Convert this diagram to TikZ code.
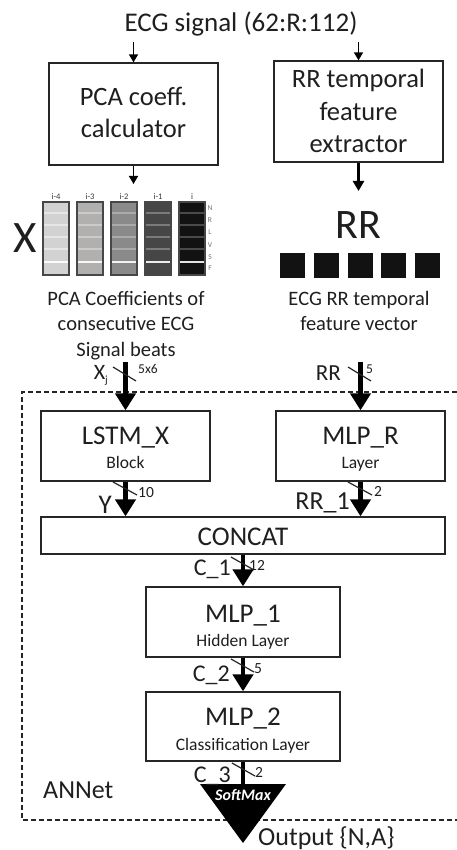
\documentclass[tikz,border=0pt]{standalone}
\usepackage{fontspec}
\setmainfont{Carlito}
\usetikzlibrary{arrows.meta}

\newcommand\fsz[1]{\fontsize{#1}{#1}\selectfont}

\definecolor{cA}{HTML}{D2D2D2}\definecolor{sA}{HTML}{E6E6E6}
\definecolor{cB}{HTML}{B2AFAF}\definecolor{sB}{HTML}{CCCACA}
\definecolor{cC}{HTML}{8A8A8A}\definecolor{sC}{HTML}{AAAAAA}
\definecolor{cD}{HTML}{464646}\definecolor{sD}{HTML}{7A7A7A}
\definecolor{cE}{HTML}{121212}\definecolor{sE}{HTML}{4A4A4A}

\begin{document}
\begin{tikzpicture}[x=1pt,y=-1pt,
  box/.style={draw=black!85,line width=1.3pt,inner sep=0pt,fill=white},
  txt/.style={inner sep=0pt,anchor=base,text=black!88},
  lbl/.style={inner sep=0pt,text=black!88},
  bus/.style={line width=4.5pt,-{Triangle[width=20pt,length=17pt]}},
  feed/.style={line width=1.6pt,-{Triangle[width=9pt,length=8pt]}},
  tick/.style={line width=1.2pt,black!85},
  coltag/.style={inner sep=0pt,anchor=base,font=\fsz{8.5},text=black!80},
  rowtag/.style={inner sep=0pt,font=\fsz{7.5},text=black!55},
  ]
\useasboundingbox (0,0) rectangle (457,850);

% ---- input signal and the two feature extractors
\node[txt,font=\fsz{27}] (ecg) at (241,32) {ECG signal (62:R:112)};
\coordinate (ecgL) at (133.5,42);
\coordinate (ecgR) at (358.5,42);

\node[box,minimum width=169pt,minimum height=102pt] (pca) at (133.5,114) {};
\node[txt,font=\fsz{26.5}] (pcaA) at (133.5,106) {PCA coeff.};
\node[txt,font=\fsz{26.5}] (pcaB) at (133.5,138) {calculator};

\node[box,minimum width=169pt,minimum height=101pt] (rrx) at (358.5,111.5) {};
\node[txt,font=\fsz{26.5}] (rrxA) at (358.5,88) {RR temporal};
\node[txt,font=\fsz{26.5}] (rrxB) at (358.5,121) {feature};
\node[txt,font=\fsz{26.5}] (rrxC) at (358.5,153) {extractor};

\draw[feed] (ecgL) -- (pca.north);
\draw[feed] (ecgR) -- (rrx.north);

\coordinate (pcaOut) at (133.5,184);
\coordinate (rrxOut) at (358.5,191);
\draw[feed] (pca.south) -- (pcaOut);
\draw[line width=2.4pt,-{Triangle[width=11pt,length=10pt]}] (rrx.south) -- (rrxOut);

% ---- PCA coefficient matrix X (five consecutive beats)
\node[txt,font=\fsz{45}] (bigX) at (25,252) {X};
\foreach \k/\fc/\sc/\lab in {0/cA/sA/i-4,1/cB/sB/i-3,2/cC/sC/i-2,3/cD/sD/i-1,4/cE/sE/i}{
  \pgfmathsetmacro\xl{43+34*\k}
  \fill[\fc] (\xl,202) rectangle ++(26,73);
  \foreach \yy in {213,225,237,249}
    \draw[\sc,line width=2pt] (\xl,\yy) -- ++(26,0);
  \draw[white!85!\sc,line width=1.6pt] (\xl,262) -- ++(26,0);
  \draw[black!72,line width=1.5pt] (\xl,202) rectangle ++(26,73);
  \node[coltag] (tag\k) at (\xl+13,200) {\lab};
}
\foreach \r/\yy in {N/208,R/220,L/232,V/245,S/257,F/268}
  \node[rowtag] (row\r) at (210,\yy) {\r};

\node[txt,font=\fsz{20.5}] (capA) at (126,305) {PCA Coefficients of};
\node[txt,font=\fsz{20.5}] (capB) at (126,330) {consecutive ECG};
\node[txt,font=\fsz{20.5}] (capC) at (126,356) {Signal beats};

% ---- RR feature vector
\node[txt,font=\fsz{42}] (bigRR) at (358,238) {RR};
\foreach \k in {0,...,4}
  \fill[black!93] (280+33.75*\k,253) rectangle ++(25,25);
\node[txt,font=\fsz{20.5}] (capD) at (359,305) {ECG RR temporal};
\node[txt,font=\fsz{20.5}] (capE) at (359,330) {feature vector};

% ---- ANNet
\draw[line width=1.6pt,black!85,dash pattern=on 5pt off 3pt]
  (457,392) -- (22,392) -- (22,820) -- (457,820);
\node[lbl,anchor=base west,font=\fsz{26}] (annet) at (43,798) {ANNet};

\node[box,minimum width=169pt,minimum height=70pt] (lstm) at (125.5,446) {};
\node[txt,font=\fsz{27}] (lstmA) at (125.5,444) {LSTM\_X};
\node[txt,font=\fsz{17.5}] (lstmB) at (125.5,468) {Block};

\node[box,minimum width=169pt,minimum height=70pt] (mlpr) at (360.5,446) {};
\node[txt,font=\fsz{27}] (mlprA) at (360.5,444) {MLP\_R};
\node[txt,font=\fsz{17.5}] (mlprB) at (360.5,468) {Layer};

\node[box,minimum width=404pt,minimum height=37pt] (concat) at (243,535.5) {};
\node[txt,font=\fsz{27}] (concatA) at (243,545) {CONCAT};

\node[box,minimum width=194pt,minimum height=70pt] (mlpa) at (243,622) {};
\node[txt,font=\fsz{27}] (mlpaA) at (243,622) {MLP\_1};
\node[txt,font=\fsz{17.5}] (mlpaB) at (243,646) {Hidden Layer};

\node[box,minimum width=194pt,minimum height=69pt] (mlpb) at (243,726.5) {};
\node[txt,font=\fsz{27}] (mlpbA) at (243,725) {MLP\_2};
\node[txt,font=\fsz{17.5}] (mlpbB) at (243,750) {Classification Layer};

% bus inputs
\coordinate (xin) at (125.5,362);
\coordinate (rin) at (360.5,362);
\draw[bus] (xin) -- (lstm.north);
\draw[bus] (rin) -- (mlpr.north);
\draw[tick] (113,367) -- (136,381);
\draw[tick] (348,367) -- (371,381);
\node[lbl,anchor=base east,font=\fsz{22}] (xj) at (108,379) {X\raisebox{-4pt}{\fsz{11}j}};
\node[lbl,anchor=base west,font=\fsz{13.5}] (xw) at (138,373) {5x6};
\node[lbl,anchor=base east,font=\fsz{23}] (rrl) at (341,380) {RR};
\node[lbl,anchor=base west,font=\fsz{13.5}] (rw) at (366,373) {5};

% buses into CONCAT
\draw[bus] (lstm.south) -- (concat.north -| lstm.south);
\draw[bus] (mlpr.south) -- (concat.north -| mlpr.south);
\draw[tick] (113,482) -- (137,495);
\draw[tick] (348,482) -- (372,495);
\node[lbl,anchor=base east,font=\fsz{27}] (yl) at (112,513) {Y};
\node[lbl,anchor=base west,font=\fsz{15.5}] (yw) at (138,497) {10};
\node[lbl,anchor=base east,font=\fsz{26}] (rr1) at (350,509) {RR\_1};
\node[lbl,anchor=base west,font=\fsz{15.5}] (rr1w) at (374,496) {2};

% CONCAT -> MLP_1 -> MLP_2
\draw[bus] (concat.south) -- (mlpa.north);
\draw[tick] (231,557) -- (254,570);
\node[lbl,anchor=base east,font=\fsz{24}] (c1) at (231,575) {C\_1};
\node[lbl,anchor=base west,font=\fsz{15.5}] (c1w) at (249,570) {12};

\draw[bus] (mlpa.south) -- (mlpb.north);
\draw[tick] (231,659) -- (254,672);
\node[lbl,anchor=base east,font=\fsz{24}] (c2) at (230,681) {C\_2};
\node[lbl,anchor=base west,font=\fsz{15.5}] (c2w) at (254,673) {5};

% MLP_2 -> SoftMax -> output
\coordinate (smtop) at (243,784);
\fill[black] (200,784) -- (286,784) -- (243,843) -- cycle;
\draw[line width=4.5pt] (mlpb.south) -- (smtop);
\draw[tick] (232,763) -- (255,776);
\node[lbl,anchor=base east,font=\fsz{24}] (c3) at (231,782) {C\_3};
\node[lbl,anchor=base west,font=\fsz{15.5}] (c3w) at (255,777) {2};
\node[inner sep=0pt,anchor=base,text=white,font=\fsz{16}\bfseries\itshape] (smax) at (243,800) {SoftMax};
\node[lbl,anchor=base west,font=\fsz{26}] (outl) at (258,845) {Output \{N,A\}};
\end{tikzpicture}
\end{document}
